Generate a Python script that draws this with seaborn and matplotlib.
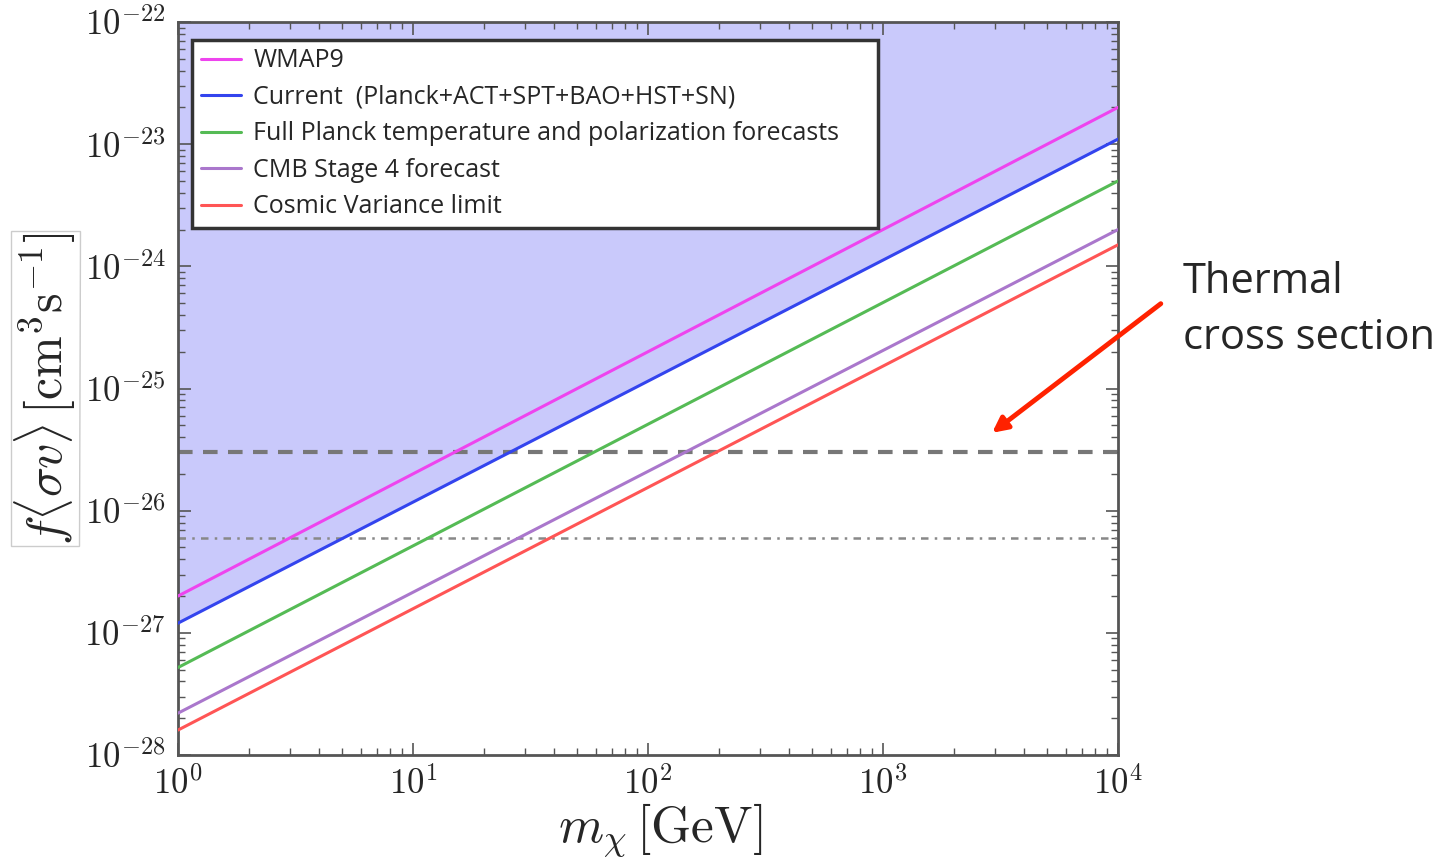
import numpy as np
import pandas as pd
import matplotlib
matplotlib.use("Agg")
import matplotlib.pyplot as plt
import seaborn as sns
from matplotlib.ticker import FuncFormatter, FixedLocator, NullFormatter

# ---- data ----
mass = [1.0, 1.0e4]  # GeV
labels = ["WMAP9",
          "Current  (Planck+ACT+SPT+BAO+HST+SN)",
          "Full Planck temperature and polarization forecasts",
          "CMB Stage 4 forecast",
          "Cosmic Variance limit"]
wmap9 = [2.0e-27, 2.0e-23]
current = [1.2e-27, 1.1e-23]
planck_full = [5.2e-28, 5.0e-24]
stage4 = [2.2e-28, 2.0e-24]
cv_limit = [1.6e-28, 1.5e-24]
thermal = 3.0e-26
thermal_low = 6.0e-27
x_exponents = [0, 1, 2, 3, 4]
y_exponents = [-28, -27, -26, -25, -24, -23, -22]
colors = ["#ee44ee", "#3344ee", "#55bb55", "#aa77cc", "#ff5555"]

sns.set_style("ticks")
plt.rcParams["mathtext.fontset"] = "cm"
plt.rcParams["font.family"] = ["Open Sans", "DejaVu Sans"]

fig = plt.figure(figsize=(14.39, 8.59), dpi=100)
ax = fig.add_axes([178/1439, 1-755/859, (1118-178)/1439, (755-22)/859])

series = [wmap9, current, planck_full, stage4, cv_limit]
df = pd.concat([pd.DataFrame({"m": mass, "sv": s, "label": l})
                for s, l in zip(series, labels)], ignore_index=True)

ax.set_xscale("log")
ax.set_yscale("log")
ax.set_xlim(1, 1e4)
ax.set_ylim(1e-28, 1e-22)

# shaded excluded region above current constraint
ax.fill_between(mass, current, [1e-22, 1e-22], color="#c9c9fb", lw=0, zorder=0)

sns.lineplot(data=df, x="m", y="sv", hue="label", palette=colors,
             hue_order=labels, ax=ax, lw=2.2, zorder=3)

ax.axhline(thermal, color="#777777", lw=3, ls=(0, (3.5, 2.5)), zorder=2)
ax.axhline(thermal_low, color="#888888", lw=1.8, ls=(0, (3, 2.5, 1, 2.5)), zorder=2)

def minors(exps):
    return [k * 10.0**e for e in exps[:-1] for k in range(2, 10)]

fmt = FuncFormatter(lambda v, p: r"$10^{%d}$" % int(round(np.log10(v))))
ax.xaxis.set_major_locator(FixedLocator([10.0**e for e in x_exponents]))
ax.yaxis.set_major_locator(FixedLocator([10.0**e for e in y_exponents]))
ax.xaxis.set_minor_locator(FixedLocator(minors(x_exponents)))
ax.yaxis.set_minor_locator(FixedLocator(minors(y_exponents)))
ax.xaxis.set_major_formatter(fmt)
ax.yaxis.set_major_formatter(fmt)
ax.xaxis.set_minor_formatter(NullFormatter())
ax.yaxis.set_minor_formatter(NullFormatter())
ax.tick_params(which="both", direction="in", top=True, right=True, color="#555555")
ax.tick_params(which="major", length=9, width=1.2, labelsize=25, pad=9)
ax.tick_params(which="minor", length=5, width=1.0)
for sp in ax.spines.values():
    sp.set_color("#555555")
    sp.set_linewidth(2)

ax.set_xlabel(r"$m_\chi\,[\mathrm{GeV}]$", fontsize=37)
ax.xaxis.set_label_coords((660-178)/940, (755-802)/733)
ax.set_ylabel(r"$f\langle\sigma v\rangle\,[\mathrm{cm}^3\mathrm{s}^{-1}]$", fontsize=36,
              bbox=dict(facecolor="white", edgecolor="#cccccc", lw=1, pad=1))
ax.yaxis.set_label_coords((78-178)/940, 0.5)

handles, lbls = ax.get_legend_handles_labels()
leg = ax.legend(handles, lbls, loc="upper left",
                bbox_to_anchor=(0.015, 0.976 - 0.3, (878-192)/940, 0.3),
                mode="expand",
                borderaxespad=0, fontsize=18, frameon=True, fancybox=False,
                shadow=False, handlelength=1.6, handletextpad=0.5,
                labelspacing=0.46, borderpad=0.35)
leg.get_frame().set_edgecolor("#333333")
leg.get_frame().set_linewidth(2.5)
leg.get_frame().set_facecolor("white")
leg.get_frame().set_alpha(1)

# annotation outside the axes
fig.text(1183/1439, 1-310/859, "Thermal\ncross section", fontsize=30,
         ha="left", va="center", linespacing=1.45, family=["Open Sans", "DejaVu Sans"])
ax.annotate("", xy=(2850, 4.2e-26), xycoords="data",
            xytext=(1163/1439, 1-302/859), textcoords="figure fraction",
            arrowprops=dict(arrowstyle="-|>,head_length=0.9,head_width=0.45",
                            color="#ff2200", lw=3.5), annotation_clip=False)

fig.savefig("out.png", dpi=100)
